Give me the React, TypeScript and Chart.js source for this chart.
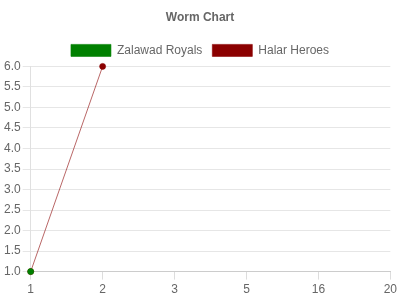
import React, { useEffect, useRef } from "react";
import { Chart, registerables } from "chart.js";

Chart.register(...registerables);

const overs = ["1", "2", "3", "5", "16", "20"];
const zalawadRuns = [1];
const halarRuns = [1, 6];
const yTicks = [1, 1.5, 2, 2.5, 3, 3.5, 4, 4.5, 5, 5.5, 6];

export default function App() {
  const ref = useRef<HTMLCanvasElement>(null);
  useEffect(() => {
    document.body.style.margin = "0";
    const font = { family: "Arial, 'Liberation Sans', Helvetica, sans-serif", size: 12 };
    const chart = new Chart(ref.current!, {
      type: "line",
      data: {
        labels: overs,
        datasets: [
          {
            label: "Zalawad Royals",
            data: zalawadRuns,
            backgroundColor: "#008000",
            borderColor: "rgba(0,128,0,0.6)",
            borderWidth: 1,
            pointBackgroundColor: "#008000",
            pointBorderColor: "rgba(0,128,0,0.6)",
            pointRadius: 3,
            pointBorderWidth: 1,
            fill: false,
            tension: 0,
            clip: false,
          },
          {
            label: "Halar Heroes",
            data: halarRuns,
            backgroundColor: "#8b0000",
            borderColor: "rgba(139,0,0,0.6)",
            borderWidth: 1,
            pointBackgroundColor: "#8b0000",
            pointBorderColor: "rgba(139,0,0,0.6)",
            pointRadius: 3,
            pointBorderWidth: 1,
            fill: false,
            tension: 0,
            clip: false,
          },
        ],
      },
      options: {
        responsive: false,
        animation: false,
        layout: { padding: { left: 2, right: 2, top: 0, bottom: 0 } },
        plugins: {
          title: {
            display: true,
            text: "Worm Chart",
            color: "#666",
            font: { ...font, weight: "bold" },
            padding: { top: 10, bottom: 10 },
          },
          legend: {
            labels: { color: "#666", font, boxWidth: 40, boxHeight: 12, padding: 10 },
          },
          tooltip: { enabled: false },
        },
        scales: {
          x: {
            type: "category",
            offset: false,
            grid: { drawOnChartArea: false, color: "#ddd", tickLength: 8 },
            border: { color: "#ccc" },
            ticks: { color: "#666", font, maxRotation: 0, padding: 3 },
          },
          y: {
            min: 1,
            max: 6,
            afterBuildTicks: (axis: any) => {
              axis.ticks = yTicks.map((v) => ({ value: v }));
            },
            grid: { color: "#e6e6e6", tickLength: 8 },
            border: { color: "#e0e0e0" },
            ticks: {
              color: "#666",
              font,
              padding: 2,
              callback: (v: any) => Number(v).toFixed(1),
            },
          },
        },
      },
    });
    return () => chart.destroy();
  }, []);
  return <canvas ref={ref} width={400} height={300} />;
}
